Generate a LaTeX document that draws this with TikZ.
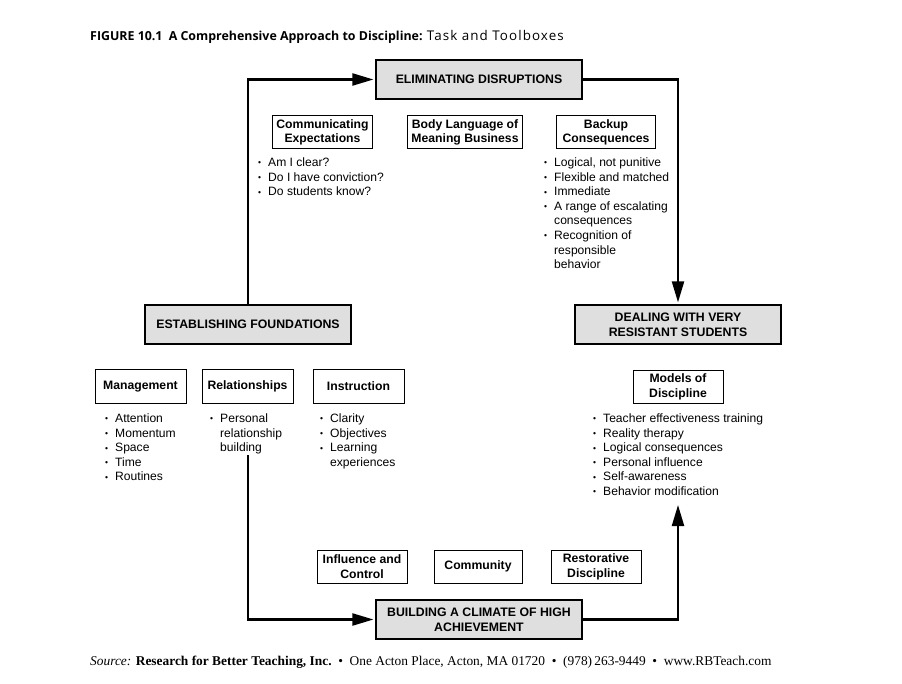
\documentclass[tikz,border=0pt]{standalone}
\usepackage{fontspec}
\setmainfont{Liberation Sans}
\newfontfamily\titlefont{Open Sans}
\newfontfamily\srcfont{Liberation Serif}
\usetikzlibrary{positioning,arrows.meta}

\newcommand{\bl}{\makebox[10pt][l]{\raisebox{0.6pt}{\fontsize{8.5}{8.5}\selectfont•}}}
\newcommand{\nb}{\hspace*{10pt}}

\begin{document}
\begin{tikzpicture}[x=1pt, y=-1pt,
  main/.style = {draw, line width=1.2pt, fill=gray!25, minimum width=206pt, minimum height=39pt, align=center, font=\bfseries\fontsize{12.3}{14.6}\selectfont},
  tool/.style = {draw, line width=1pt, minimum width=90pt, minimum height=33pt, inner xsep=4pt, align=center, font=\bfseries\fontsize{12.2}{14.6}\selectfont},
  list/.style = {anchor=north west, inner sep=0pt, align=left, font=\fontsize{12.1}{14.6}\selectfont},
  arr/.style = {line width=2.2pt, shorten >=2pt, -{Triangle[length=21pt,width=12pt]}}]
\useasboundingbox (0,0) rectangle (902,684);

% title and source
\node[anchor=base west, inner sep=0pt, font=\titlefont\fontsize{12.4}{14}\selectfont] (t) at (90,40.5) {\bfseries FIGURE 10.1\enspace A Comprehensive Approach to Discipline: \mdseries\fontsize{13.4}{14}\selectfont\addfontfeatures{LetterSpace=8}Task and Toolboxes};
\node[anchor=west, inner sep=0pt, font=\srcfont\fontsize{13.4}{15}\selectfont] (s) at (90,662) {\itshape Source: \upshape\bfseries Research for Better Teaching, Inc.\mdseries\enspace •\enspace One Acton Place, Acton, MA 01720\enspace •\enspace (978)\,263-9449\enspace •\enspace www.RBTeach.com};

% task boxes
\node[main] (1) at (479,79.5) {ELIMINATING DISRUPTIONS};
\node[main] (2) at (248,324.5) {ESTABLISHING FOUNDATIONS};
\node[main] (3) at (678,324.5) {DEALING WITH VERY\\RESISTANT STUDENTS};
\node[main] (4) at (479,619.5) {BUILDING A CLIMATE OF HIGH\\ACHIEVEMENT};

% toolboxes
\node[tool] (5) at (322.5,132.5) {Communicating\\Expectations};
\node[tool] (6) at (465,132.5) {Body Language of\\Meaning Business};
\node[tool, minimum width=99pt] (7) at (606,132.5) {Backup\\Consequences};
\node[tool, minimum width=91pt] (8) at (140.5,386.5) {Management};
\node[tool, minimum width=91pt] (9) at (247.5,386.5) {Relationships};
\node[tool, minimum width=91pt] (10) at (358.5,386.5) {Instruction};
\node[tool] (11) at (678,387) {Models of\\Discipline};
\node[tool] (12) at (362,566.5) {Influence and\\Control};
\node[tool, minimum width=88pt] (13) at (478,566.5) {Community};
\node[tool] (14) at (596,567) {Restorative\\Discipline};

% bullet lists
\node[list] (5a) at (258,157.5) {\bl Am I clear?\\ \bl Do I have conviction?\\ \bl Do students know?};
\node[list] (7a) at (544,157.5) {\bl Logical, not punitive\\ \bl Flexible and matched\\ \bl Immediate\\ \bl A range of escalating\\ \nb consequences\\ \bl Recognition of\\ \nb responsible\\ \nb behavior};
\node[list] (8a) at (105,413.5) {\bl Attention\\ \bl Momentum\\ \bl Space\\ \bl Time\\ \bl Routines};
\node[list] (9a) at (210,413.5) {\bl Personal\\ \nb relationship\\ \nb building};
\node[list] (10a) at (320,413.5) {\bl Clarity\\ \bl Objectives\\ \bl Learning\\ \nb experiences};
\node[list] (11a) at (593,413.5) {\bl Teacher effectiveness training\\ \bl Reality therapy\\ \bl Logical consequences\\ \bl Personal influence\\ \bl Self-awareness\\ \bl Behavior modification};

% cycle
\coordinate (r) at (248,455);
\coordinate (m) at (678,503);
\draw[arr] (2.north) |- (1.west);
\draw[arr] (1.east) -| (3.north);
\draw[arr] (r) |- (4.west);
\draw[arr] (4.east) -| (m);
\end{tikzpicture}
\end{document}
